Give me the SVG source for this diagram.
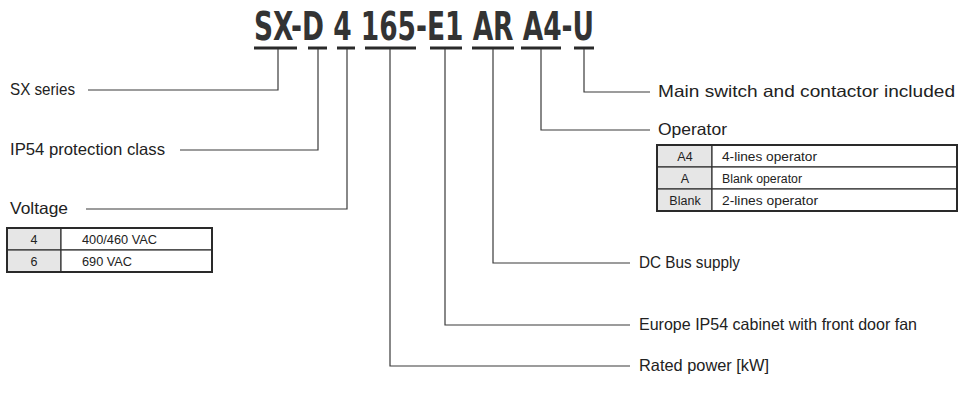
<svg xmlns="http://www.w3.org/2000/svg" width="962" height="397" viewBox="0 0 962 397">
<style>
.title{font-family:"Liberation Sans Narrow","DejaVu Sans Condensed","Liberation Sans",sans-serif;font-weight:bold;font-size:39px;fill:#333}
.ul{stroke:#2a2a2a;stroke-width:3;fill:none}
.conn{stroke:#3a3a3a;stroke-width:1.2;fill:none}
.lbl{font-family:"Liberation Sans","Arial",sans-serif;font-size:16.5px;fill:#222}
.tb{font-family:"Liberation Sans","Arial",sans-serif;font-size:12.5px;fill:#222}
.cell{fill:#fff;stroke:#333;stroke-width:1.2}
.key{fill:#e6e6e6;stroke:#333;stroke-width:1.2}
.frame{fill:none;stroke:#2a2a2a;stroke-width:2}
</style>
<g id="title">
<text class="title" x="254" y="40" textLength="340" lengthAdjust="spacingAndGlyphs">SX-D 4 165-E1 AR A4-U</text>
<path class="ul" d="M254,48H297M308,48H327M337,48H355M365,48H416M430,48H462M472,48H514M521,48H561M574,48H594"/>
</g>
<g id="connectors">
<path class="conn" d="M278,49V90H88"/>
<path class="conn" d="M318,49V150H180"/>
<path class="conn" d="M347,49V209H86"/>
<path class="conn" d="M390,49V366H630"/>
<path class="conn" d="M445,49V325H630"/>
<path class="conn" d="M493,49V263H630"/>
<path class="conn" d="M541,49V130H650"/>
<path class="conn" d="M584,49V92H650"/>
</g>
<g id="sx-series"><text class="lbl" x="10" y="95" textLength="65" lengthAdjust="spacingAndGlyphs">SX series</text></g>
<g id="ip54-class"><text class="lbl" x="10" y="155" textLength="155" lengthAdjust="spacingAndGlyphs">IP54 protection class</text></g>
<g id="voltage">
<text class="lbl" x="10" y="214" textLength="58" lengthAdjust="spacingAndGlyphs">Voltage</text>
<rect class="key" x="7" y="228" width="54" height="22"/>
<rect class="key" x="7" y="250" width="54" height="22"/>
<rect class="cell" x="61" y="228" width="151" height="22"/>
<rect class="cell" x="61" y="250" width="151" height="22"/>
<rect class="frame" x="7" y="228" width="205" height="44"/>
<text class="tb" x="34" y="244" text-anchor="middle">4</text>
<text class="tb" x="82" y="244" textLength="75" lengthAdjust="spacingAndGlyphs">400/460 VAC</text>
<text class="tb" x="34" y="266" text-anchor="middle">6</text>
<text class="tb" x="82" y="266" textLength="50" lengthAdjust="spacingAndGlyphs">690 VAC</text>
</g>
<g id="main-switch"><text class="lbl" x="658" y="97" textLength="297" lengthAdjust="spacingAndGlyphs">Main switch and contactor included</text></g>
<g id="operator">
<text class="lbl" x="658" y="135" textLength="69" lengthAdjust="spacingAndGlyphs">Operator</text>
<rect class="key" x="657" y="145" width="55" height="22"/>
<rect class="key" x="657" y="167" width="55" height="22"/>
<rect class="key" x="657" y="189" width="55" height="22"/>
<rect class="cell" x="712" y="145" width="245" height="22"/>
<rect class="cell" x="712" y="167" width="245" height="22"/>
<rect class="cell" x="712" y="189" width="245" height="22"/>
<rect class="frame" x="657" y="145" width="300" height="66"/>
<text class="tb" x="685" y="161" text-anchor="middle">A4</text>
<text class="tb" x="722" y="161" textLength="95" lengthAdjust="spacingAndGlyphs">4-lines operator</text>
<text class="tb" x="685" y="183" text-anchor="middle">A</text>
<text class="tb" x="722" y="183" textLength="80" lengthAdjust="spacingAndGlyphs">Blank operator</text>
<text class="tb" x="685" y="205" text-anchor="middle">Blank</text>
<text class="tb" x="722" y="205" textLength="96" lengthAdjust="spacingAndGlyphs">2-lines operator</text>
</g>
<g id="dc-bus"><text class="lbl" x="639" y="268" textLength="101" lengthAdjust="spacingAndGlyphs">DC Bus supply</text></g>
<g id="europe-cabinet"><text class="lbl" x="639" y="330" textLength="278" lengthAdjust="spacingAndGlyphs">Europe IP54 cabinet with front door fan</text></g>
<g id="rated-power"><text class="lbl" x="639" y="371" textLength="130" lengthAdjust="spacingAndGlyphs">Rated power [kW]</text></g>
</svg>
